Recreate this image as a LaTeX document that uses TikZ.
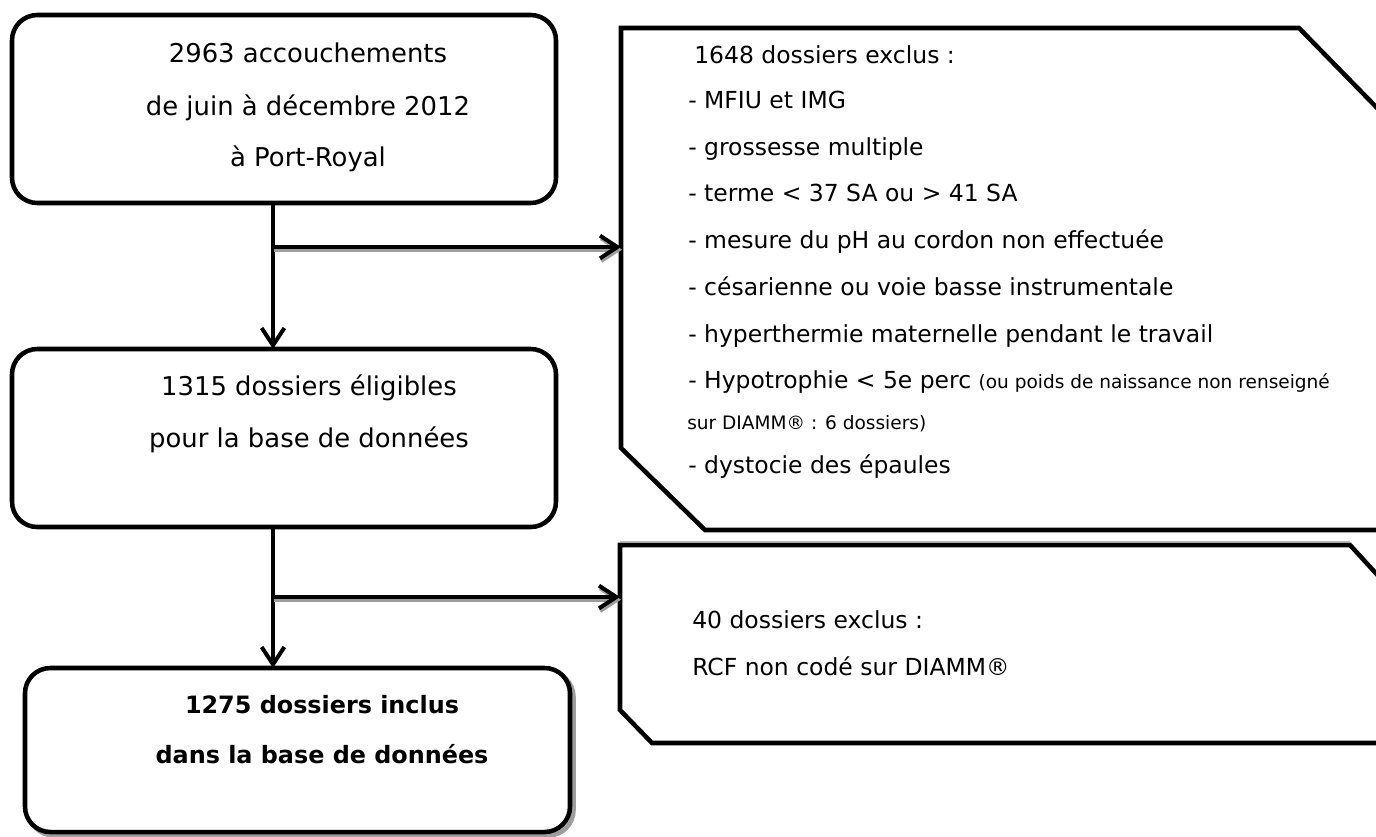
\documentclass[tikz,border=0pt]{standalone}
\usepackage{fontspec}
\setmainfont{DejaVu Sans}
\usetikzlibrary{arrows.meta}
\definecolor{shadowgray}{gray}{0.62}
\definecolor{lightshadow}{gray}{0.72}
\newcommand{\mynotefont}{\fontsize{13.9pt}{17pt}\selectfont}
\begin{document}
\begin{tikzpicture}[x=0.75pt,y=-0.75pt,
  roundbox/.style={draw, line width=3.4pt, rounded corners=19pt, inner sep=0pt, outer sep=0pt},
  ghostbox/.style={draw=none, inner sep=0pt, outer sep=0pt},
  boxline/.style={line width=3.4pt, line join=miter},
  conn/.style={line width=3pt, -{Straight Barb[length=13pt,width=17pt]}},
  bigtxt/.style={font=\fontsize{19.4pt}{23pt}\selectfont, anchor=base, inner sep=0pt},
  boldtxt/.style={font=\fontsize{17.9pt}{22pt}\selectfont\bfseries, anchor=base, inner sep=0pt},
  rtxt/.style={font=\fontsize{17.6pt}{21pt}\selectfont, anchor=base west, inner sep=0pt},
  notetxt/.style={font=\mynotefont, anchor=base west, inner sep=0pt}
]
\useasboundingbox (0,0) rectangle (1376,836);
\clip (0,0) rectangle (1376,836);

% left boxes
\node[roundbox, minimum width=408pt, minimum height=141pt] (b1) at (284,109) {};
\node[bigtxt] (b1l1) at (308,62) {2963 accouchements};
\node[bigtxt] (b1l2) at (308,115) {de juin à décembre 2012};
\node[bigtxt] (b1l3) at (308,166) {à Port-Royal};

\node[roundbox, minimum width=408pt, minimum height=133.5pt] (b2) at (284,438) {};
\node[bigtxt] (b2l1) at (309,395) {1315 dossiers éligibles};
\node[bigtxt] (b2l2) at (309,447) {pour la base de données};

\node[roundbox, draw=shadowgray, minimum width=408.75pt, minimum height=123pt] (b3s) at (301,753.5) {};
\node[roundbox, fill=white, minimum width=408.75pt, minimum height=123pt] (b3) at (297.5,750) {};
\node[boldtxt] (b3l1) at (322,713) {1275 dossiers inclus};
\node[boldtxt] (b3l2) at (322,763) {dans la base de données};

% right box 1
\node[ghostbox, minimum width=571.5pt, minimum height=376.5pt] (rb1) at (1002,279) {};
\draw[boxline] (rb1.north west) -- ++(678,0) -- ++(84,86) -- (rb1.south east) -- ++(-678,0) -- ++(-84,-82) -- cycle;
\node[rtxt] (r1l0) at (694,63) {1648 dossiers exclus :};
\node[rtxt] (r1l1) at (688,108) {- MFIU et IMG};
\node[rtxt] (r1l2) at (688,155) {- grossesse multiple};
\node[rtxt] (r1l3) at (688,201) {- terme < 37 SA ou > 41 SA};
\node[rtxt] (r1l4) at (688,248) {- mesure du pH au cordon non effectuée};
\node[rtxt] (r1l5) at (688,295) {- césarienne ou voie basse instrumentale};
\node[rtxt] (r1l6) at (688,342) {- hyperthermie maternelle pendant le travail};
\node[rtxt] (r1l7) at (688,388) {- Hypotrophie < 5e perc {\mynotefont (ou poids de naissance non renseigné}};
\node[notetxt] (r1l8) at (687,429) {sur DIAMM® : 6 dossiers)};
\node[rtxt] (r1l9) at (688,473) {- dystocie des épaules};

% right box 2
\node[ghostbox, minimum width=571.5pt, minimum height=148.5pt] (rb2) at (1001,644) {};
\draw[lightshadow, line width=1pt] ([yshift=2.6pt]rb2.north west) -- ++(730,0);
\draw[boxline] (rb2.north west) -- ++(730,0) -- ++(32,35) -- (rb2.south east) -- ++(-730,0) -- ++(-32,-33) -- cycle;
\node[rtxt] (r2l1) at (692,628) {40 dossiers exclus :};
\node[rtxt] (r2l2) at (692,675) {RCF non codé sur DIAMM®};

% connectors
\coordinate (c1) at (273,247);
\coordinate (c2) at (273,597);
\draw[conn] (b1.south -| c1) -- (b2.north -| c1);
\draw[conn] (b2.south -| c2) -- (b3.north -| c2);
\draw[conn, shadowgray, transform canvas={xshift=0.8pt,yshift=-2pt}] (c1) -- (c1 -| rb1.west);
\draw[conn] (c1) -- (c1 -| rb1.west);
\draw[conn, shadowgray, transform canvas={xshift=0.8pt,yshift=-2pt}] (c2) -- (c2 -| rb2.west);
\draw[conn] (c2) -- (c2 -| rb2.west);
\end{tikzpicture}
\end{document}
